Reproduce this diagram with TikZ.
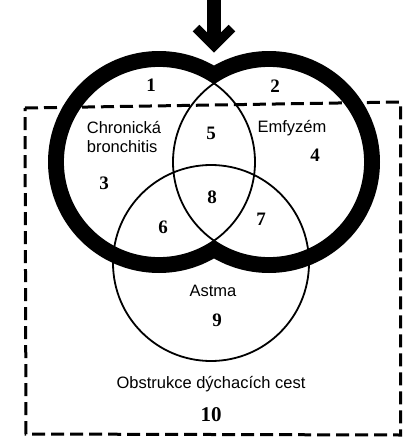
\documentclass[tikz,border=0pt]{standalone}
\usepackage{fontspec}
\setmainfont{Liberation Serif}
\setsansfont{Liberation Sans}
\usepackage{tikz}

\begin{document}
\begin{tikzpicture}[x=1pt,y=-1pt,
    num/.style={font=\fontsize{19}{22}\selectfont\bfseries, inner sep=0pt},
    lab/.style={font=\sffamily\fontsize{16.5}{19}\selectfont, inner sep=0pt, align=left},
    thin/.style={line width=1.8pt},
    dashbox/.style={line width=3pt, dash pattern=on 13pt off 6pt}]
  \useasboundingbox (0,0) rectangle (404,437);
  \coordinate (CB) at (159,162);
  \coordinate (EM) at (269,162);
  \coordinate (AS) at (211,263);
  % heavy outline round the two upper sets
  \fill (CB) circle (111) (EM) circle (111);
  \fill[white] (CB) circle (96) (EM) circle (96);
  \draw[dashbox] (25,108) -- (400.5,102) -- (400.5,435) -- (26,434) -- cycle;
  \draw[thin] (CB) circle (96);
  \draw[thin] (EM) circle (96);
  \draw[thin] (AS) circle (98);
  % arrow
  \coordinate (AT) at (214,0);
  \coordinate (AM) at (214,41);
  \coordinate (AL) at (196,28);
  \coordinate (AH) at (214,46);
  \coordinate (AR) at (232,28);
  \draw[line width=13.4pt] (AT) -- (AM);
  \draw[line width=9.2pt, line join=miter] (AL) -- (AH) -- (AR);
  % labels
  \node[lab] (CHB) at (124,137) {Chronická\\bronchitis};
  \node[lab] (EMF) at (292,128) {Emfyzém};
  \node[lab] (AST) at (213,291) {Astma};
  \node[lab] (OBS) at (211,384) {Obstrukce dýchacích cest};
  \node[num] (N1) at (151,85) {1};
  \node[num] (N2) at (275,86) {2};
  \node[num] (N3) at (104,183) {3};
  \node[num] (N4) at (315,155) {4};
  \node[num] (N5) at (211,133) {5};
  \node[num] (N6) at (163,227) {6};
  \node[num] (N7) at (261,219) {7};
  \node[num] (N8) at (212,197) {8};
  \node[num] (N9) at (217,320) {9};
  \node[num, font=\fontsize{21}{24}\selectfont\bfseries] (N10) at (211,415) {10};
\end{tikzpicture}
\end{document}
